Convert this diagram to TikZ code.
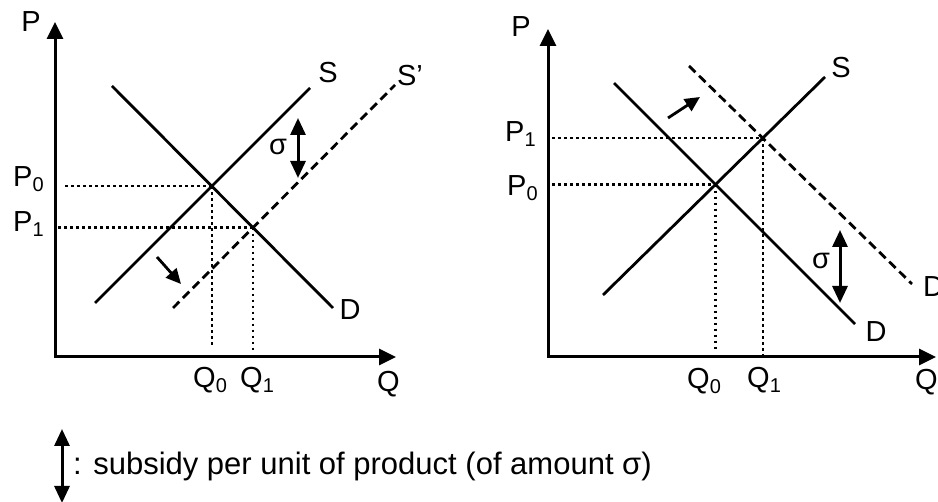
\documentclass[tikz,border=0pt]{standalone}
\usepackage{fontspec}
\setmainfont{Liberation Sans}
\usetikzlibrary{arrows.meta,intersections}
\newcommand{\sbs}[1]{\raisebox{-5pt}{\fontsize{20}{20}\selectfont #1}}
\begin{document}
\begin{tikzpicture}[x=1pt,y=-1pt,
  font=\fontsize{29}{34}\selectfont,
  axes/.style={line width=3pt,{Triangle[width=16pt,length=17pt]}-{Triangle[width=16pt,length=17pt]}},
  curve/.style={line width=2.8pt},
  shifted/.style={line width=2.8pt,dash pattern=on 9pt off 5pt},
  guide/.style={line width=2.5pt,dash pattern=on 2.5pt off 3.5pt},
  sigarrow/.style={line width=3pt,{Triangle[width=15pt,length=17pt]}-{Triangle[width=15pt,length=17pt]}},
  shiftarrow/.style={line width=2.8pt,-{Triangle[width=14pt,length=15pt]}},
  lbl/.style={inner sep=0pt}]
\useasboundingbox (0,0) rectangle (938,502);
% ---------- left graph ----------
\coordinate (LPtop) at (55,22);
\coordinate (LO) at (55,357);
\coordinate (LQend) at (396,357);
\draw[axes] (LPtop) -- (LO) -- (LQend);
\coordinate (LS1) at (95,303);  \coordinate (LS2) at (310,88);
\coordinate (LD1) at (112,86);  \coordinate (LD2) at (333,308);
\coordinate (LSp1) at (173,308); \coordinate (LSp2) at (395,85);
\draw[curve,name path=LS] (LS1) -- (LS2);
\draw[curve,name path=LD] (LD1) -- (LD2);
\draw[shifted,name path=LSp] (LSp1) -- (LSp2);
\path[name intersections={of=LS and LD,by=LE0}];
\path[name intersections={of=LSp and LD,by=LE1}];
\coordinate (LP0g) at (65,0);
\coordinate (LP1g) at (58,0);
\coordinate (LQ0g) at (0,348);
\coordinate (LQ1g) at (0,352);
\draw[guide] (LP0g |- LE0) -- (LE0);
\draw[guide] (LP1g |- LE1) -- (LE1);
\draw[guide] (LE0) -- (LE0 |- LQ0g);
\draw[guide] (LE1) -- (LE1 |- LQ1g);
\coordinate (LSigT) at (298,118); \coordinate (LSigB) at (298,178);
\draw[sigarrow] (LSigT) -- (LSigB);
\coordinate (LShA) at (157,257); \coordinate (LShB) at (181,284);
\draw[shiftarrow] (LShA) -- (LShB);
\node[lbl] (LPl) at (31,22) {P};
\node[lbl] (LSl) at (328,73) {S};
\node[lbl] (LSpl) at (410,76) {S’};
\node[lbl] (LDl) at (350,310) {D};
\node[lbl,anchor=base west] (LQl) at (377,392) {Q};
\node[lbl,anchor=base west] (LP0l) at (13,187) {P\sbs{0}};
\node[lbl,anchor=base west] (LP1l) at (13,232) {P\sbs{1}};
\node[lbl,anchor=base west] (LQ0l) at (193,388) {Q\sbs{0}};
\node[lbl,anchor=base west] (LQ1l) at (240,388) {Q\sbs{1}};
\node[lbl] (LSig) at (278,147) {σ};
% ---------- right graph ----------
\coordinate (RPtop) at (548,29);
\coordinate (RO) at (548,357);
\coordinate (RQend) at (936,357);
\draw[axes] (RPtop) -- (RO) -- (RQend);
\coordinate (RS1) at (603,295); \coordinate (RS2) at (825,77);
\coordinate (RD1) at (614,83);  \coordinate (RD2) at (855,324);
\coordinate (RDp1) at (689,66); \coordinate (RDp2) at (912,284);
\draw[curve,name path=RS] (RS1) -- (RS2);
\draw[curve,name path=RD] (RD1) -- (RD2);
\draw[shifted,name path=RDp] (RDp1) -- (RDp2);
\path[name intersections={of=RS and RD,by=RE0}];
\path[name intersections={of=RS and RDp,by=RE1}];
\coordinate (RPg) at (552,0);
\coordinate (RQ0g) at (0,350);
\coordinate (RQ1g) at (0,357);
\draw[guide] (RPg |- RE0) -- (RE0);
\draw[guide] (RPg |- RE1) -- (RE1);
\draw[guide] (RE0) -- (RE0 |- RQ0g);
\draw[guide] (RE1) -- (RE1 |- RQ1g);
\coordinate (RSigT) at (840,230); \coordinate (RSigB) at (840,303);
\draw[sigarrow] (RSigT) -- (RSigB);
\coordinate (RShA) at (668,118); \coordinate (RShB) at (700,97);
\draw[shiftarrow] (RShA) -- (RShB);
\node[lbl] (RPl) at (521,27) {P};
\node[lbl] (RSl) at (841,68) {S};
\node[lbl] (RDl) at (876,332) {D};
\node[lbl,anchor=base west] (RDpl) at (923,297) {D’};
\node[lbl,anchor=base west] (RQl) at (915,390) {Q};
\node[lbl,anchor=base west] (RP1l) at (505,142) {P\sbs{1}};
\node[lbl,anchor=base west] (RP0l) at (507,196) {P\sbs{0}};
\node[lbl,anchor=base west] (RQ0l) at (687,389) {Q\sbs{0}};
\node[lbl,anchor=base west] (RQ1l) at (747,388) {Q\sbs{1}};
\node[lbl] (RSig) at (821,261) {σ};
% ---------- legend ----------
\coordinate (KeyT) at (62,429); \coordinate (KeyB) at (62,503);
\draw[sigarrow] (KeyT) -- (KeyB);
\node[lbl,anchor=base west,font=\fontsize{31}{36}\selectfont] (KeyText) at (73,475) {: subsidy per unit of product (of amount σ)};
\end{tikzpicture}
\end{document}
